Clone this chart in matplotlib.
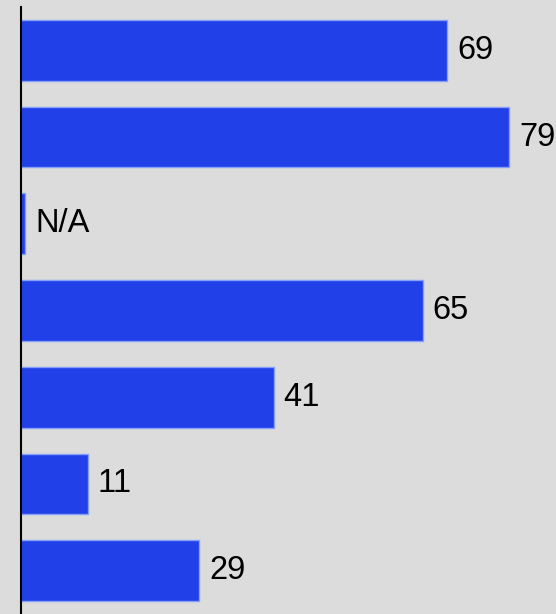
import matplotlib
matplotlib.use("Agg")
import matplotlib.pyplot as plt

plt.rcParams['font.family'] = ['Liberation Sans', 'DejaVu Sans']

categories = ["A", "B", "C", "D", "E", "F", "G"]
values = [69, 79, None, 65, 41, 11, 29]
labels = ["69", "79", "N/A", "65", "41", "11", "29"]

BG = "#dcdcdc"
BAR = "#2140e8"
EDGE = "#86a0f7"
STUB = 0.9  # sliver drawn for missing values

fig = plt.figure(figsize=(5.56, 6.14), dpi=100)
fig.patch.set_facecolor(BG)
left = 19.5 / 556
ax = fig.add_axes([left, 0, 1 - left, 1 - 7 / 614])
ax.set_facecolor(BG)

ypos = list(range(len(categories)))
widths = [v if v is not None else STUB for v in values]
ax.barh(ypos, widths, height=0.7, color=BAR, edgecolor=EDGE, linewidth=1.0)

for y, w, lab in zip(ypos, widths, labels):
    ax.annotate(lab, xy=(w, y), xytext=(10, 0), textcoords="offset pixels",
                ha="left", va="center", fontsize=23.5, color="black")

ax.set_xlim(0, 536.5 / 6.2)
ax.set_ylim(len(categories) - 0.5, -0.5)
for s in ["top", "right", "bottom"]:
    ax.spines[s].set_visible(False)
ax.spines["left"].set_linewidth(1.5)
ax.spines["left"].set_color("black")
ax.spines["left"].set_position(("data", 0.2))
ax.set_xticks([])
ax.set_yticks([])

fig.savefig("out.png", dpi=100, facecolor=BG)
